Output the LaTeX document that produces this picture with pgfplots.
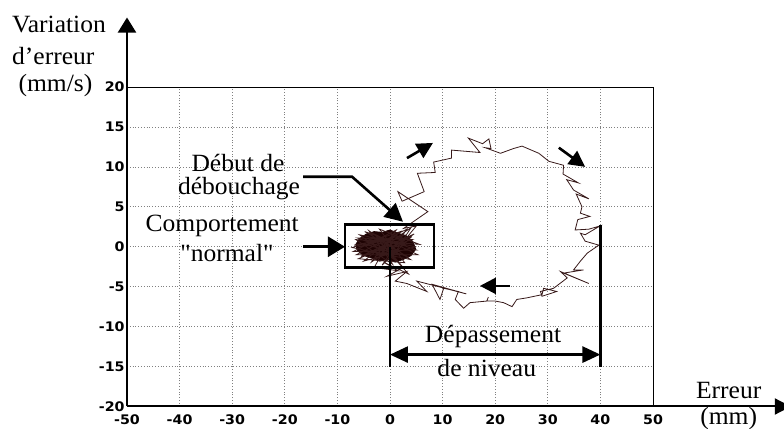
\documentclass[border=0pt]{standalone}
\usepackage{fontspec}
\setmainfont{Liberation Serif}[FakeStretch=1.03, Ligatures=TeXOff]
\newfontfamily\tickfontfam{DejaVu Sans Bold}[FakeStretch=1.08]
\usepackage{pgfplots}
\pgfplotsset{compat=1.18}
\usetikzlibrary{arrows.meta}
\definecolor{trace}{RGB}{55,25,25}
\definecolor{blob}{RGB}{30,3,3}
\newcommand{\tkfont}{\tickfontfam\fontsize{6.6}{7.5}\selectfont}
\newcommand{\txt}{\fontsize{12.4}{14}\selectfont}
\begin{document}
\begin{tikzpicture}
\useasboundingbox (-63.5pt,-11.25pt) rectangle (328.5pt,203.25pt);
\begin{axis}[
  scale only axis, width=263pt, height=159.75pt,
  xmin=-50, xmax=50, ymin=-20, ymax=20,
  xtick={-50,-40,-30,-20,-10,0,10,20,30,40,50},
  ytick={-20,-15,-10,-5,0,5,10,15,20},
  xticklabels={-50,-40,-30,-20,-10,0,10,20,30,40,50},
  yticklabels={-20,-15,-10,-5,0,5,10,15,20},
  grid=major,
  major grid style={densely dotted, gray, line width=0.35pt},
  major tick length=0pt,
  axis line style={line width=0.45pt},
  tick label style={font=\tkfont, text=black},
  xticklabel style={inner sep=1pt, yshift=-2.8pt},
  yticklabel style={inner sep=1pt},
  clip=false,
]
% blob of "normal" behaviour
\addplot[fill=blob, draw=blob, line width=0.4pt] coordinates {
(-6.5,0.3) (-5.8,1.0) (-4.5,1.6) (-3,1.9) (-1.5,1.8) (0,2.1) (1.5,1.7) (3,1.4) (4.3,0.7) (4.9,-0.3) (4,-1.1) (2.5,-1.6) (1,-1.9) (-0.5,-1.6) (-2,-1.8) (-3.5,-1.4) (-5,-1.1) (-6.2,-0.5) (-6.5,0.3)
};
\addplot[trace, line width=0.4pt] coordinates {
(-6.8,0.2) (2.5,1.4) (-5.5,-1.2) (4.2,0.9) (-6.2,1.1) (3.5,-1.3) (-4.8,1.9) (5.0,-0.4) (-7.0,-0.6) (1.2,2.1) (-3.5,-1.9) (4.6,1.6) (-6.0,-1.5) (2.8,-2.0) (-2.0,2.2) (5.6,0.3) (-6.5,0.9) (0.5,-2.2) (-4.0,2.0) (3.9,-1.6) (-7.2,-0.1) (2.0,1.9) (-5.0,-1.8) (4.8,0.0) (-5.8,1.5) (1.0,-1.7) (-3.0,1.6) (5.3,-1.0) (-6.4,-1.0) (3.2,2.2) (-1.5,-2.3) (4.0,1.2) (-5.2,0.4) (2.2,-1.0) (-4.4,-0.6) (3.0,0.2) (-3.8,0.9) (1.5,-0.5) (-2.5,-1.1) (2.5,0.8) (-6.0,0.0) (0.0,1.0) (-3.0,-2.6) (1.5,-3.0) (-1.0,-2.0) (3.5,-3.4) (0.5,-1.2) (4.0,2.4) (1.0,1.0)
};
% excursion loop
\addplot[trace, line width=0.4pt] coordinates {
(3.0,1.0) (5.0,2.6) (2.6,2.3) (7.2,4.4) (1.5,6.9) (2.3,5.7) (6.5,6.9) (5.2,9.2) (8.6,9.3) (8.3,10.6) (11.7,11.1) (11.7,12.1) (17.1,11.8) (14.9,13.6) (17.6,12.9) (18.8,13.5) (19.2,12.3) (18.1,12.4) (21.0,11.7) (23.5,12.3) (25.1,12.6) (28.3,11.7) (30.2,10.7) (33.0,10.2) (32.9,9.1) (35.8,8.0) (33.6,8.4) (34.9,7.1) (37.8,6.0) (35.4,6.6) (36.5,5.0) (36.2,4.2) (38.0,3.8) (35.7,3.4) (35.2,2.1) (37.8,2.2) (39.9,2.6) (37.1,1.5) (36.2,1.7) (37.1,0.7) (39.7,0.2) (37.5,-0.8) (36.2,-1.8) (34.9,-2.9) (36.8,-2.9) (33.0,-3.3) (37.8,-4.6) (32.4,-3.1) (33.7,-3.9) (31.1,-5.2) (28.6,-5.6) (28.9,-6.2) (31.7,-5.6) (29.2,-5.2) (28.9,-6.0) (26.0,-6.4) (24.1,-6.6) (23.2,-7.5) (21.6,-7.0) (20.0,-6.8) (18.4,-6.8) (18.7,-6.3) (18.4,-6.8) (15.2,-7.0) (14.0,-7.7) (12.4,-6.6) (13.0,-5.6) (10.2,-5.2) (9.5,-6.6) (8.0,-4.7) (14.5,-5.9) (5.1,-4.3) (7.0,-5.6) (3.2,-4.6) (1.0,-4.3) (3.2,-3.1) (-0.6,-3.7) (2.5,-2.6) (0.5,-1.0)
};
% axes with arrows
\draw[line width=1pt, -{Triangle[length=7.5pt,width=9pt]}] (axis cs:-50,-20) -- (axis cs:-50,28.7);
\draw[line width=1pt, -{Triangle[length=8pt,width=8pt]}] (axis cs:-50,-20) -- (axis cs:76.2,-20);
% axis titles
\node[anchor=base west, inner sep=0pt, font=\txt] at (axis cs:-71.9,26.8) {Variation};
\node[anchor=base west, inner sep=0pt, font=\txt] at (axis cs:-71.9,22.8) {d’erreur};
\node[anchor=base west, inner sep=0pt, font=\txt] at (axis cs:-70.7,19.4) {(mm/s)};
\node[anchor=base, inner sep=0pt, font=\txt] at (axis cs:64.4,-19.0) {Erreur};
\node[anchor=base, inner sep=0pt, font=\txt] at (axis cs:64.4,-22.3) {(mm)};
% annotations
\node[anchor=base, inner sep=0pt, font=\txt] at (axis cs:-28.9,9.4) {Début de};
\node[anchor=base, inner sep=0pt, font=\txt] at (axis cs:-28.7,6.5) {débouchage};
\node[anchor=base, inner sep=0pt, font=\txt] at (axis cs:-31.9,1.9) {Comportement};
\node[anchor=base, inner sep=0pt, font=\txt] at (axis cs:-31.0,-1.9) {"normal"};
\node[anchor=base, inner sep=0pt, font=\txt] at (axis cs:19.6,-12.0) {Dépassement};
\node[anchor=base, inner sep=0pt, font=\txt] at (axis cs:18.4,-16.3) {de niveau};
\draw[line width=1.3pt, -{Triangle[length=9pt,width=9pt]}] (axis cs:-16.5,8.76) -- (axis cs:-7.2,8.76) -- (axis cs:2.47,3.13);
\draw[line width=1.3pt, -{Triangle[length=8.5pt,width=10pt]}] (axis cs:-16.5,0) -- (axis cs:-8.56,0);
\draw[line width=1.3pt] (axis cs:-8.56,2.75) rectangle (axis cs:8.37,-2.63);
\draw[line width=1.4pt] (axis cs:0,0) -- (axis cs:0,-15.1);
\draw[line width=1.4pt] (axis cs:40,2.75) -- (axis cs:40,-15.1);
\draw[line width=1.4pt, {Triangle[length=9pt,width=8pt]}-{Triangle[length=9pt,width=8pt]}] (axis cs:0,-13.5) -- (axis cs:40,-13.5);
\draw[line width=1.3pt, -{Triangle[length=8pt,width=8pt]}] (axis cs:3.23,11.1) -- (axis cs:8.17,13.0);
\draw[line width=1.3pt, -{Triangle[length=8pt,width=8pt]}] (axis cs:32.1,12.4) -- (axis cs:37.1,10.0);
\draw[line width=1.3pt, -{Triangle[length=8pt,width=8pt]}] (axis cs:22.8,-4.9) -- (axis cs:17.1,-4.9);
\end{axis}
\end{tikzpicture}
\end{document}
